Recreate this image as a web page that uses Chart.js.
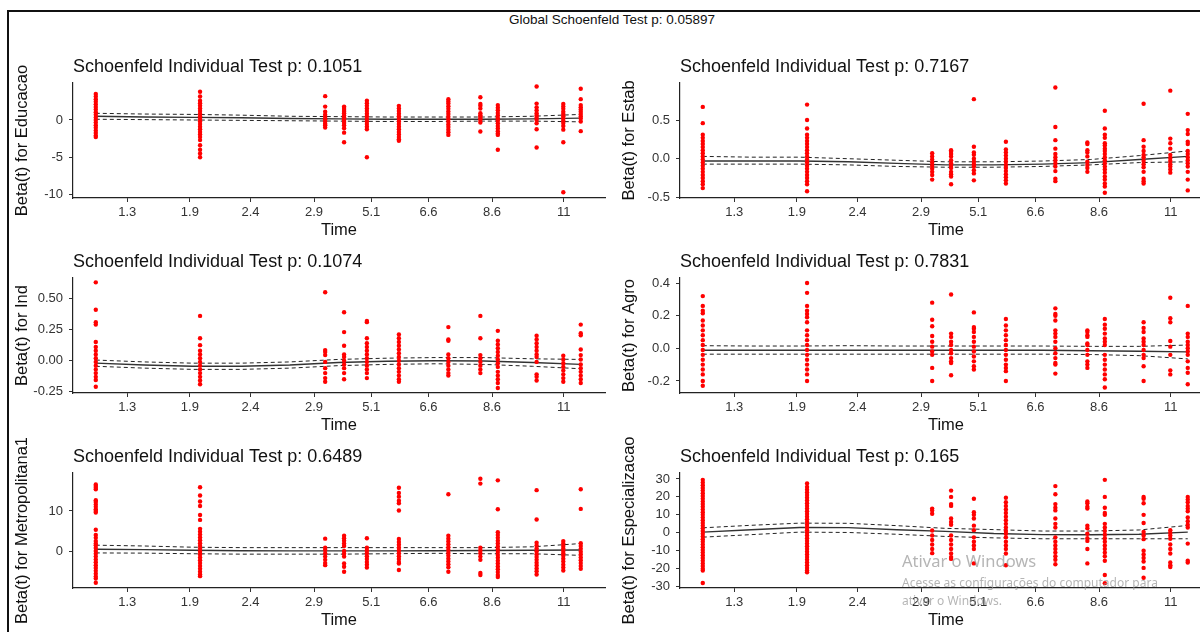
<!DOCTYPE html>
<html>
<head>
<meta charset="utf-8">
<script src="https://cdn.jsdelivr.net/npm/chart.js@4/dist/chart.umd.min.js"></script>
<style>
  html, body { margin: 0; padding: 0; background: #fff; overflow: hidden; }
  body { width: 1200px; height: 632px; position: relative; font-family: "Liberation Sans", Arial, sans-serif; }
  #frame { position: absolute; left: 7px; top: 10px; width: 1300px; height: 700px; border-left: 2px solid #111; border-top: 2px solid #111; }
  #globalTitle { position: absolute; top: 12px; left: 0; width: 1224px; text-align: center; font-size: 13.5px; line-height: 16px; color: #111; }
  .panel { position: absolute; }
  .wm { position: absolute; left: 902px; font-family: "Noto Sans", "Open Sans", sans-serif; color: rgba(150, 150, 150, 0.7); white-space: nowrap; }
</style>
</head>
<body>
<div id="frame"></div>
<div id="globalTitle">Global Schoenfeld Test p: 0.05897</div>

<canvas class="panel" id="c1" width="600" height="195" style="left:9px;top:45px"></canvas>
<canvas class="panel" id="c2" width="600" height="195" style="left:616px;top:45px"></canvas>
<canvas class="panel" id="c3" width="600" height="195" style="left:9px;top:240px"></canvas>
<canvas class="panel" id="c4" width="600" height="195" style="left:616px;top:240px"></canvas>
<canvas class="panel" id="c5" width="600" height="195" style="left:9px;top:435px"></canvas>
<canvas class="panel" id="c6" width="600" height="195" style="left:616px;top:435px"></canvas>

<div class="wm" style="top:549px;font-size:16.5px">Ativar o Windows</div>
<div class="wm" style="top:574px;font-size:12px">Acesse as configurações do computador para</div>
<div class="wm" style="top:592px;font-size:12px">ativar o Windows.</div>

<script>
// transformed (km) time of each event column, and the axis ticks on that scale
const eventTimes = [0, 0.215, 0.473, 0.512, 0.559, 0.625, 0.727, 0.793, 0.829, 0.909, 0.964, 1];
const timeTicks = [0.065, 0.194, 0.319, 0.45, 0.568, 0.686, 0.817, 0.965];
const timeLabels = ['1.3', '1.9', '2.4', '2.9', '5.1', '6.6', '8.6', '11'];
const smoothTimes = [0, 0.1, 0.2, 0.3, 0.4, 0.5, 0.6, 0.7, 0.8, 0.9, 1];

// Educacao
const educacaoResid = [
  [3.5, 3.15, 2.8, 2.45, 2.1, 1.75, 1.4, 1.05, 0.7, 0.35, 0, -0.35, -0.7, -1.05, -1.4, -1.75, -2.1, -2.3],
  [3.8, 3.15, 2.6, 2.25, 1.9, 1.55, 1.2, 0.85, 0.5, 0.15, -0.2, -0.55, -0.9, -1.25, -1.6, -1.95, -2.3, -2.7, -3.4, -4.0, -4.5, -5.0],
  [3.2, 1.8, 1.1, 0.7, 0.4, 0.1, -0.2, -0.5, -0.7, -1.0],
  [1.8, 1.6, 1.35, 1.1, 0.9, 0.6, 0.35, 0.1, -0.15, -0.4, -0.7, -1.1, -1.7, -3.0],
  [2.6, 2.25, 1.9, 1.55, 1.2, 0.85, 0.5, 0.15, -0.2, -0.55, -0.9, -1.25, -5.0],
  [1.9, 1.55, 1.2, 0.85, 0.5, 0.15, -0.2, -0.55, -0.9, -1.25, -1.6, -1.95, -2.3, -2.6, -2.8],
  [2.8, 2.5, 2.2, 1.85, 1.5, 1.15, 0.8, 0.45, 0.1, -0.25, -0.6, -0.95, -1.3, -1.65, -2.0],
  [3.05, 2.15, 1.9, 1.55, 0.9, 0.65, 0.45, 0.2, 0, -0.35, -1.55],
  [2.0, 1.65, 1.3, 0.95, 0.6, 0.25, -0.1, -0.45, -0.8, -1.15, -1.5, -1.8, -2.0, -4.0],
  [4.5, 2.2, 1.7, 1.3, 0.9, 0.6, 0.3, 0, -0.45, -1.25, -3.7],
  [2.15, 1.8, 1.5, 1.1, 0.8, 0.5, 0.2, -0.1, -0.4, -0.8, -1.3, -3.0, -9.7],
  [4.2, 2.8, 2.0, 1.7, 1.4, 1.1, 0.8, 0.5, 0.2, -0.2, -1.5]
];
const educacaoFit = [0.5, 0.4, 0.35, 0.3, 0.2, 0.15, 0.1, 0.1, 0.1, 0.15, 0.25];
const educacaoLo = [0.1, 0.05, 0.0, -0.05, -0.1, -0.15, -0.2, -0.2, -0.15, -0.15, -0.25];
const educacaoHi = [0.9, 0.8, 0.75, 0.65, 0.5, 0.45, 0.4, 0.4, 0.4, 0.5, 0.75];
const educacaoTicks = [-10, -5, 0];
const educacaoLabels = ['-10', '-5', '0'];

// Estab
const estabResid = [
  [0.67, 0.46, 0.31, 0.27, 0.23, 0.19, 0.15, 0.11, 0.07, 0.03, -0.01, -0.05, -0.09, -0.13, -0.17, -0.21, -0.25, -0.29, -0.33, -0.38],
  [0.70, 0.50, 0.39, 0.31, 0.27, 0.23, 0.19, 0.15, 0.11, 0.07, 0.03, -0.01, -0.05, -0.09, -0.13, -0.17, -0.21, -0.25, -0.29, -0.33, -0.42],
  [0.07, 0.03, -0.01, -0.05, -0.09, -0.13, -0.17, -0.21, -0.27],
  [0.11, 0.09, 0.06, 0.03, -0.02, -0.06, -0.09, -0.12, -0.17, -0.2, -0.23, -0.33],
  [0.77, 0.155, 0.08, 0.05, 0.0, -0.04, -0.07, -0.1, -0.15, -0.19, -0.28],
  [0.22, 0.12, 0.08, 0.04, 0, -0.04, -0.08, -0.12, -0.16, -0.2, -0.24, -0.28, -0.32],
  [0.92, 0.41, 0.24, 0.13, 0.06, 0.02, -0.02, -0.06, -0.1, -0.16, -0.26, -0.29],
  [0.21, 0.19, 0.11, 0.08, 0.03, -0.04, -0.08, -0.12, -0.17],
  [0.62, 0.39, 0.31, 0.27, 0.2, 0.17, 0.13, 0.1, 0.06, 0.02, -0.02, -0.06, -0.1, -0.14, -0.18, -0.23, -0.27, -0.32, -0.36, -0.44],
  [0.71, 0.24, 0.155, 0.1, 0.05, 0.02, -0.03, -0.07, -0.11, -0.17, -0.26, -0.29, -0.32],
  [0.88, 0.26, 0.2, 0.13, 0.05, 0.01, -0.03, -0.07, -0.1, -0.14, -0.18],
  [0.58, 0.37, 0.32, 0.22, 0.19, 0.1, 0.06, 0.02, -0.02, -0.06, -0.1, -0.17, -0.27, -0.41]
];
const estabFit = [-0.03, -0.03, -0.03, -0.04, -0.06, -0.08, -0.08, -0.07, -0.05, -0.01, 0.03];
const estabLo = [-0.07, -0.07, -0.07, -0.08, -0.1, -0.11, -0.11, -0.1, -0.08, -0.05, -0.04];
const estabHi = [0.03, 0.02, 0.02, 0.0, -0.02, -0.04, -0.04, -0.03, -0.01, 0.04, 0.1];
const estabTicks = [-0.5, 0, 0.5];
const estabLabels = ['-0.5', '0.0', '0.5'];

// Ind
const indResid = [
  [0.63, 0.41, 0.31, 0.29, 0.15, 0.11, 0.08, 0.05, 0.02, -0.01, -0.04, -0.07, -0.1, -0.13, -0.155, -0.21],
  [0.36, 0.18, 0.125, 0.08, 0.05, 0.02, -0.01, -0.04, -0.07, -0.1, -0.13, -0.16, -0.19],
  [0.55, 0.085, 0.07, 0.045, -0.01, -0.06, -0.1, -0.14, -0.17],
  [0.39, 0.23, 0.12, 0.05, 0.03, 0.0, -0.03, -0.06, -0.1, -0.15],
  [0.32, 0.31, 0.18, 0.14, 0.11, 0.08, 0.05, 0.02, -0.01, -0.04, -0.07, -0.1, -0.14],
  [0.21, 0.18, 0.15, 0.12, 0.09, 0.06, 0.03, 0.0, -0.03, -0.06, -0.09, -0.12, -0.15, -0.17],
  [0.27, 0.17, 0.16, 0.05, 0.02, -0.01, -0.04, -0.07, -0.1, -0.12],
  [0.36, 0.18, 0.045, 0.02, -0.01, -0.04, -0.07, -0.1],
  [0.24, 0.16, 0.13, 0.1, 0.07, 0.04, 0.01, -0.02, -0.05, -0.09, -0.12, -0.15, -0.18, -0.22],
  [0.2, 0.17, 0.14, 0.11, 0.08, 0.05, 0.03, -0.01, -0.11, -0.13, -0.16],
  [0.04, 0.01, -0.02, -0.05, -0.08, -0.11, -0.14, -0.17],
  [0.29, 0.22, 0.205, 0.09, 0.045, 0.01, -0.03, -0.06, -0.09, -0.12, -0.15, -0.18]
];
const indFit = [-0.02, -0.035, -0.045, -0.045, -0.035, -0.015, -0.005, 0.0, -0.003, -0.015, -0.03];
const indLo = [-0.045, -0.06, -0.07, -0.07, -0.06, -0.04, -0.03, -0.025, -0.03, -0.045, -0.065];
const indHi = [0.005, -0.01, -0.02, -0.02, -0.01, 0.01, 0.02, 0.025, 0.025, 0.015, 0.01];
const indTicks = [-0.25, 0, 0.25, 0.5];
const indLabels = ['-0.25', '0.00', '0.25', '0.50'];

// Agro
const agroResid = [
  [0.32, 0.26, 0.23, 0.215, 0.17, 0.14, 0.11, 0.08, 0.05, 0.02, -0.01, -0.04, -0.07, -0.1, -0.13, -0.16, -0.2, -0.23],
  [0.40, 0.34, 0.26, 0.23, 0.21, 0.19, 0.16, 0.11, 0.08, 0.05, 0.02, -0.01, -0.04, -0.07, -0.1, -0.13, -0.16, -0.2],
  [0.28, 0.175, 0.135, 0.075, 0.04, 0.01, -0.02, -0.04, -0.12, -0.2],
  [0.33, 0.09, 0.07, 0.04, 0.02, -0.01, -0.03, -0.06, -0.08, -0.09, -0.165],
  [0.22, 0.13, 0.12, 0.1, 0.07, 0.04, 0.01, -0.02, -0.05, -0.08, -0.11, -0.13],
  [0.18, 0.14, 0.11, 0.08, 0.05, 0.02, -0.01, -0.04, -0.07, -0.1, -0.12, -0.14, -0.2],
  [0.245, 0.21, 0.2, 0.17, 0.11, 0.09, 0.07, 0.04, 0.0, -0.03, -0.06, -0.09, -0.1, -0.155],
  [0.11, 0.1, 0.08, 0.07, 0.03, 0.02, -0.01, -0.04, -0.08, -0.1, -0.12],
  [0.18, 0.145, 0.12, 0.09, 0.06, 0.04, 0.02, -0.04, -0.07, -0.1, -0.13, -0.16, -0.19, -0.24],
  [0.16, 0.125, 0.1, 0.06, 0.04, 0.02, -0.01, -0.04, -0.06, -0.11, -0.2],
  [0.31, 0.185, 0.16, 0.045, 0.01, -0.04, -0.135, -0.16],
  [0.26, 0.09, 0.07, 0.04, 0.02, 0.0, -0.02, -0.04, -0.08, -0.12, -0.15, -0.22]
];
const agroFit = [-0.012, -0.012, -0.012, -0.012, -0.012, -0.012, -0.012, -0.012, -0.015, -0.018, -0.022];
const agroLo = [-0.036, -0.036, -0.036, -0.036, -0.036, -0.036, -0.036, -0.036, -0.038, -0.045, -0.065];
const agroHi = [0.016, 0.014, 0.014, 0.016, 0.014, 0.014, 0.014, 0.014, 0.012, 0.012, 0.02];
const agroTicks = [-0.2, 0, 0.2, 0.4];
const agroLabels = ['-0.2', '0.0', '0.2', '0.4'];

// Metropolitana1
const metroResid = [
  [16.5, 16.1, 15.7, 15.3, 12.6, 12.2, 11.6, 11.0, 10.4, 10.0, 9.6, 5.4, 4.1, 3.4, 2.6, 2.0, 1.6, 0.9, 0.2, -0.5, -1.2, -1.9, -2.6, -3.3, -4.0, -4.7, -5.4, -6.1, -6.6, -7.6],
  [15.8, 13.8, 12.3, 11.2, 9.0, 7.8, 5.6, 4.9, 4.2, 3.5, 2.8, 2.1, 1.4, 0.7, 0, -0.7, -1.4, -2.1, -2.8, -3.5, -4.2, -4.9, -5.6, -6.0],
  [3.2, 1.0, 0.4, -0.4, -1.2, -2.0, -2.8, -3.3],
  [3.9, 3.3, 2.7, 2.0, 1.4, 0.2, -0.5, -1.2, -2.9, -3.7, -4.9],
  [3.3, 1.0, 0.3, -0.4, -1.1, -1.8, -2.5, -3.2, -3.9],
  [15.7, 14.4, 13.5, 12.5, 11.9, 10.1, 3.1, 2.4, 1.7, 1.0, 0.3, -0.4, -1.1, -1.8, -2.5, -2.9, -4.5],
  [14.1, 3.9, 3.2, 2.5, 1.8, 1.1, 0.4, -0.3, -1.0, -1.7, -2.4, -3.1, -3.8, -4.9],
  [17.9, 16.7, 1.0, 0.3, -0.4, -1.2, -2.0, -5.2, -5.7],
  [17.5, 10.4, 4.8, 4.1, 3.4, 2.7, 2.0, 1.3, 0.6, -0.1, -0.8, -1.5, -2.2, -2.9, -3.6, -4.3, -5.0, -5.7, -6.2],
  [15.1, 7.9, 2.2, 1.5, 0.8, 0.1, -0.6, -1.3, -2.0, -2.7, -3.4, -4.1, -4.8, -5.6],
  [2.6, 2.0, 1.4, 0.8, 0.2, -0.4, -1.0, -1.7, -2.4, -3.2, -3.9, -4.6],
  [15.3, 10.5, 2.1, 1.4, 0.7, 0.0, -0.7, -1.4, -2.1, -2.8, -3.5, -4.2]
];
const metroFit = [0.6, 0.5, 0.35, 0.25, 0.2, 0.2, 0.2, 0.25, 0.3, 0.35, 0.4];
const metroLo = [-0.3, -0.35, -0.5, -0.6, -0.6, -0.6, -0.5, -0.4, -0.5, -0.5, -0.9];
const metroHi = [1.6, 1.4, 1.1, 1.0, 1.0, 1.0, 1.0, 1.0, 1.0, 1.2, 2.0];
const metroTicks = [0, 10];
const metroLabels = ['0', '10'];

// Especializacao
const especResid = [
  [29.5, 28, 26.5, 25, 23.5, 22, 20.5, 19, 17.5, 16, 14.5, 13, 11.5, 10, 8.5, 7, 5.5, 4, 2.5, 1, -0.5, -2, -3.5, -5, -6.5, -8, -9.5, -11, -12.5, -14, -15.5, -17, -18.5, -20, -21, -27.9],
  [27.5, 25.5, 24, 22.5, 21, 19.5, 18, 16.5, 15, 13.5, 12, 10.5, 9, 7.5, 6, 4.5, 3, 1.5, 0, -1.5, -3, -4.5, -6, -7.5, -9, -10.5, -12, -13.5, -15, -16.5, -18, -19.5, -21, -22],
  [13.5, 12.5, 10.6, 1.3, -1.5, -4, -6.5, -9, -11.3],
  [23.5, 20, 16, 15, 8, 6, 4.5, -1.5, -4, -6.5, -9, -11.5, -13.5, -14.5],
  [19, 11.5, 10, 8, 4, 1.5, -2.5, -5, -7, -9, -17],
  [19.5, 17, 15, 13, 11, 9, 7, 5, 3, 1, -0.5, -2.5, -5, -7, -9, -11.5, -18],
  [26, 21.5, 16, 14, 12.5, 8, 5, 3, -2.5, -5, -7, -9, -11, -13, -15, -17.5],
  [17.5, 16.5, 14.5, 13.5, 4, 2.5, -0.5, -3, -4.5, -9, -17],
  [29.5, 20, 14, 11, 10, 5, 3, 1, -1, -3, -5, -7, -9, -11, -13, -15.5, -23.5, -28],
  [20, 19, 16.5, 10, 5.5, 0.5, -1.5, -3.5, -10, -12, -14, -16, -19.5, -25],
  [1.5, 0, -1.5, -3.3, -6.5, -9, -11.5, -16.5, -18, -19],
  [20, 18.5, 17, 15, 13.5, 12, 8.5, 6.5, 4.5, 3, -6, -15.5, -16.5]
];
const especFit = [0.4, 1.7, 3.0, 2.9, 1.7, 0.8, -0.4, -1.0, -1.1, -0.8, 0.4];
const especLo = [-2.4, -1.0, 0.4, 0.2, -0.8, -2.0, -2.8, -3.3, -3.3, -3.3, -3.3];
const especHi = [2.8, 4.2, 5.4, 5.3, 4.0, 2.5, 1.8, 1.0, 1.0, 1.6, 4.1];
const especTicks = [-30, -20, -10, 0, 10, 20, 30];
const especLabels = ['-30', '-20', '-10', '0', '10', '20', '30'];

Chart.defaults.font.family = '"Liberation Sans", Arial, sans-serif';
Chart.defaults.animation = false;

// ggplot-style title, left aligned on the plot panel
const panelTitle = {
  id: 'panelTitle',
  afterDraw(chart, args, opts) {
    const ctx = chart.ctx;
    ctx.save();
    ctx.font = '18px "Liberation Sans", Arial, sans-serif';
    ctx.fillStyle = '#111';
    ctx.textBaseline = 'middle';
    ctx.fillText(opts.text, chart.chartArea.left, 22);
    ctx.restore();
  }
};

function toPoints(resid) {
  const pts = [];
  resid.forEach((col, i) => col.forEach(v => pts.push({x: eventTimes[i], y: v})));
  return pts;
}

function toLine(vals) {
  return vals.map((v, i) => ({x: smoothTimes[i], y: v}));
}

function buildConfig(title, yName, resid, fit, lo, hi, yTicks, yLabels, yMin, yMax) {
  return {
    type: 'scatter',
    data: {
      datasets: [
        {
          data: toPoints(resid),
          pointRadius: 2.2,
          pointBackgroundColor: '#ff0000',
          pointBorderWidth: 0
        },
        {
          data: toLine(fit),
          showLine: true,
          pointRadius: 0,
          borderColor: '#333',
          borderWidth: 1.4
        },
        {
          data: toLine(lo),
          showLine: true,
          pointRadius: 0,
          borderColor: '#222',
          borderWidth: 1,
          borderDash: [4, 3]
        },
        {
          data: toLine(hi),
          showLine: true,
          pointRadius: 0,
          borderColor: '#222',
          borderWidth: 1,
          borderDash: [4, 3]
        }
      ]
    },
    options: {
      responsive: false,
      layout: { padding: { top: 38, right: 4, left: 0, bottom: 0 } },
      plugins: {
        legend: { display: false },
        tooltip: { enabled: false },
        panelTitle: { text: title }
      },
      scales: {
        x: {
          type: 'linear',
          min: -0.047,
          max: 1.05,
          afterBuildTicks: s => { s.ticks = timeTicks.map(v => ({value: v})); },
          afterFit: s => { s.height = 42; },
          ticks: {
            callback: (v, i) => timeLabels[i],
            font: { size: 13 },
            color: '#333',
            padding: 3,
            maxRotation: 0,
            autoSkip: false
          },
          grid: { drawOnChartArea: false, tickLength: 4, color: '#333' },
          border: { color: '#222', width: 1.2 },
          title: { display: true, text: 'Time', font: { size: 16.5 }, color: '#111', padding: 0 }
        },
        y: {
          min: yMin,
          max: yMax,
          afterBuildTicks: s => { s.ticks = yTicks.map(v => ({value: v})); },
          afterFit: s => { s.width = 64; },
          ticks: {
            callback: (v, i) => yLabels[i],
            font: { size: 13 },
            color: '#333',
            padding: 6
          },
          grid: { drawOnChartArea: false, tickLength: 4, color: '#333' },
          border: { color: '#222', width: 1.2 },
          title: { display: true, text: yName, font: { size: 16.5 }, color: '#111', padding: { top: 4, bottom: 0 } }
        }
      }
    },
    plugins: [panelTitle]
  };
}

const chart1 = new Chart(document.getElementById('c1'),
  buildConfig('Schoenfeld Individual Test p: 0.1051', 'Beta(t) for Educacao',
    educacaoResid, educacaoFit, educacaoLo, educacaoHi, educacaoTicks, educacaoLabels, -10.48, 4.97));
const chart2 = new Chart(document.getElementById('c2'),
  buildConfig('Schoenfeld Individual Test p: 0.7167', 'Beta(t) for Estab',
    estabResid, estabFit, estabLo, estabHi, estabTicks, estabLabels, -0.508, 0.979));
const chart3 = new Chart(document.getElementById('c3'),
  buildConfig('Schoenfeld Individual Test p: 0.1074', 'Beta(t) for Ind',
    indResid, indFit, indLo, indHi, indTicks, indLabels, -0.26, 0.665));
const chart4 = new Chart(document.getElementById('c4'),
  buildConfig('Schoenfeld Individual Test p: 0.7831', 'Beta(t) for Agro',
    agroResid, agroFit, agroLo, agroHi, agroTicks, agroLabels, -0.274, 0.431));
const chart5 = new Chart(document.getElementById('c5'),
  buildConfig('Schoenfeld Individual Test p: 0.6489', 'Beta(t) for Metropolitana1',
    metroResid, metroFit, metroLo, metroHi, metroTicks, metroLabels, -8.9, 19.3));
const chart6 = new Chart(document.getElementById('c6'),
  buildConfig('Schoenfeld Individual Test p: 0.165', 'Beta(t) for Especializacao',
    especResid, especFit, especLo, especHi, especTicks, especLabels, -30.7, 33.3));
</script>
</body>
</html>
